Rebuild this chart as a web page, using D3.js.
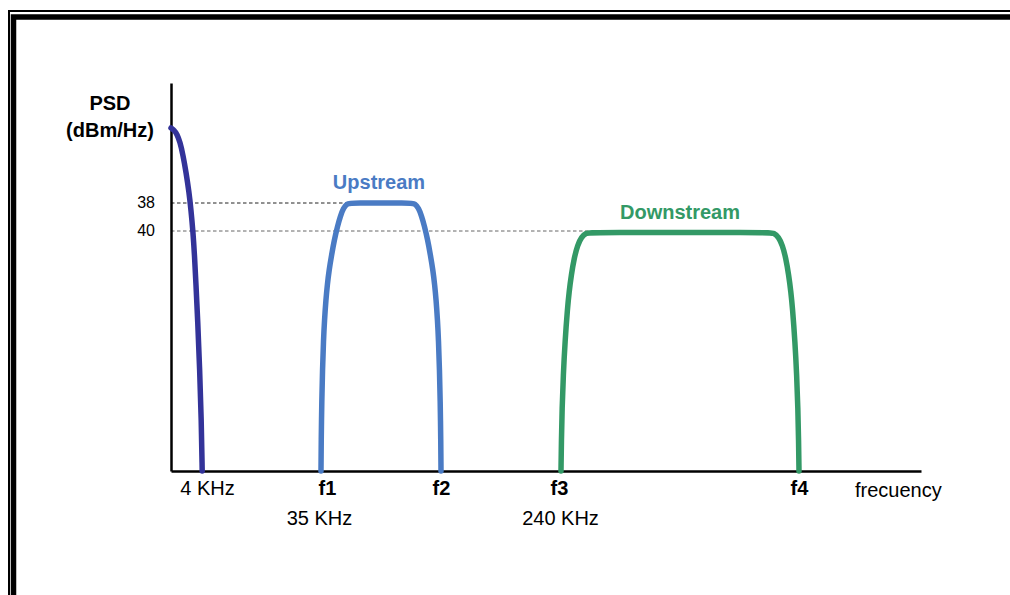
<!DOCTYPE html>
<html>
<head>
<meta charset="utf-8">
<script src="https://cdn.jsdelivr.net/npm/d3@7"></script>
<style>
  html, body { margin: 0; padding: 0; background: #fff; }
  svg { display: block; }
  text { font-family: "Liberation Sans", Arial, sans-serif; }
</style>
</head>
<body>
<svg id="chart" width="1010" height="595"></svg>
<script>
// ---- Data (schematic units: x = frequency position, y = PSD level above baseline) ----
const voiceBand = [[0,343],[3,341],[6,337],[9,329],[12,316],[15,299],[18,279],[20,261],[22,239],[23.5,216],[25,186],[26.7,151],[28.7,101],[30.3,51],[31.2,0]];
const upstream = [[150,0],[150.2,30],[150.8,71],[151.5,101],[152.5,131],[153.5,151],[154.9,171],[156.3,186],[158.1,201],[160.6,216],[163.3,231],[166.6,245],[169.4,255],[172.5,263],[176,267.5],[180,268],
                  [240,268],[244,267.5],[247.5,263],[250.6,255],[253.4,245],[256.7,231],[259.4,216],[261.9,201],[263.7,186],[265.1,171],[266.5,151],[267.5,131],[268.5,101],[269.2,71],[269.8,30],[270,0]];
const downstream = [[390,0],[390.4,30],[391.1,63],[392.3,96],[394,129],[396.5,163],[398.1,179],[400.3,196],[403.2,213],[406.6,226],[410.5,234],[415,238],[420,238.5],
                    [598,238.5],[603,238],[607.5,234],[611.4,226],[614.8,213],[617.7,196],[619.9,179],[621.5,163],[624,129],[625.7,96],[626.9,63],[627.6,30],[628,0]];
const refLevels = [ {label: "38", level: 268, end: 179}, {label: "40", level: 240, end: 419} ];
const xTicks = [31, 150, 270, 390, 628];
const xTickLabels = ["4 KHz", "f1", "f2", "f3", "f4"];
const xSubTicks = [150, 390];
const xSubTickLabels = ["35 KHz", "240 KHz"];
const seriesNames = ["Upstream", "Downstream"];

const svg = d3.select("#chart");

// frame (double border)
svg.append("path").attr("d", "M9,595 V11 H1010").attr("fill", "none").attr("stroke", "#000").attr("stroke-width", 2);
svg.append("path").attr("d", "M13.5,595 V17 H1010").attr("fill", "none").attr("stroke", "#000").attr("stroke-width", 5.5);

const x = d3.scaleLinear().domain([0, 750]).range([171, 921]);
const y = d3.scaleLinear().domain([0, 388]).range([471, 83]);

// reference dashed lines
refLevels.forEach((r, i) => {
  svg.append("line")
    .attr("x1", x(0)).attr("x2", x(r.end))
    .attr("y1", y(r.level)).attr("y2", y(r.level))
    .attr("stroke", i === 0 ? "#222" : "#666")
    .attr("stroke-width", 1)
    .attr("stroke-dasharray", "3.5,2.5");
  svg.append("text")
    .attr("x", 155).attr("y", y(r.level) + 5)
    .attr("text-anchor", "end")
    .attr("font-size", 16)
    .attr("fill", "#000")
    .text(r.label);
});

// axes
const xAxis = svg.append("g")
  .attr("transform", `translate(0,${y(0)})`)
  .call(d3.axisBottom(x).tickValues(xTicks).tickFormat((d, i) => xTickLabels[i]).tickSize(0).tickSizeOuter(0).tickPadding(10));
xAxis.select(".domain").attr("stroke", "#000").attr("stroke-width", 2.5);
xAxis.selectAll(".tick text")
  .attr("font-family", '"Liberation Sans", Arial, sans-serif')
  .attr("font-size", 20)
  .attr("fill", "#000")
  .attr("font-weight", (d, i) => i === 0 ? "normal" : "bold")
  .attr("dx", (d, i) => i === 0 ? 5 : (i === 1 ? 6 : (i === 3 ? -2 : 0)));

const xAxis2 = svg.append("g")
  .attr("transform", `translate(0,${y(0)})`)
  .call(d3.axisBottom(x).tickValues(xSubTicks).tickFormat((d, i) => xSubTickLabels[i]).tickSize(0).tickSizeOuter(0).tickPadding(40));
xAxis2.select(".domain").remove();
xAxis2.selectAll(".tick text")
  .attr("font-family", '"Liberation Sans", Arial, sans-serif')
  .attr("font-size", 20)
  .attr("fill", "#000")
  .attr("dx", (d, i) => i === 0 ? -2 : -1);

const yAxis = svg.append("g")
  .attr("transform", `translate(${x(0)},0)`)
  .call(d3.axisLeft(y).tickValues([]).tickSizeOuter(0));
yAxis.select(".domain").attr("stroke", "#000").attr("stroke-width", 2.5);

svg.append("text").attr("x", 855).attr("y", 497).attr("font-size", 20).attr("fill", "#000").text("frecuency");

// y label
svg.append("text").attr("x", 110).attr("y", 110).attr("text-anchor", "middle")
  .attr("font-size", 20).attr("font-weight", "bold").text("PSD");
svg.append("text").attr("x", 110).attr("y", 137).attr("text-anchor", "middle")
  .attr("font-size", 20).attr("font-weight", "bold").text("(dBm/Hz)");

// curves
const line = d3.line().x(d => x(d[0])).y(d => y(d[1])).curve(d3.curveBasis);
[[voiceBand, "#333399"], [upstream, "#4a7bc4"], [downstream, "#339966"]].forEach(([data, col]) => {
  svg.append("path").datum(data)
    .attr("d", line)
    .attr("fill", "none")
    .attr("stroke", col)
    .attr("stroke-width", 5.5)
    .attr("stroke-linecap", "round")
    .attr("stroke-linejoin", "round");
});

// series labels
svg.append("text").attr("x", x(208)).attr("y", 189).attr("text-anchor", "middle")
  .attr("font-size", 20).attr("font-weight", "bold").attr("fill", "#4a7bc4").text(seriesNames[0]);
svg.append("text").attr("x", x(509)).attr("y", 219).attr("text-anchor", "middle")
  .attr("font-size", 20).attr("font-weight", "bold").attr("fill", "#339966").text(seriesNames[1]);
</script>
</body>
</html>
